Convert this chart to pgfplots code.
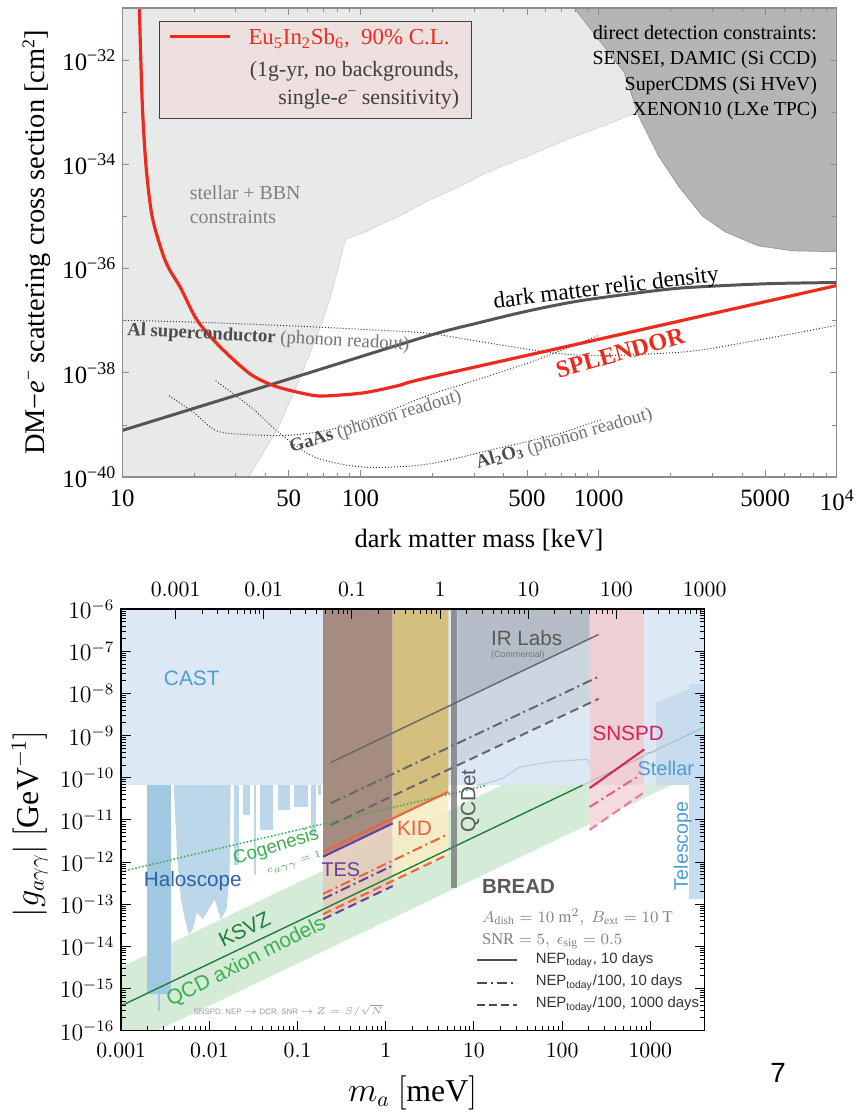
\documentclass[border=0pt]{standalone}
\usepackage{fontspec}
\setmainfont{Liberation Serif}
\newfontfamily\hv{Liberation Sans}
\usepackage{pgfplots}
\pgfplotsset{compat=1.18}
\newcommand{\fs}[1]{\fontsize{#1}{#1}\selectfont}
\newcommand{\sps}[1]{\raisebox{0.8ex}{\fontsize{9}{9}\selectfont #1}}
\definecolor{stellargray}{HTML}{E8E9E9}
\definecolor{ddgray}{HTML}{B5B5B5}
\definecolor{ddedge}{HTML}{999999}
\definecolor{splred}{HTML}{EE2A1B}
\definecolor{relic}{HTML}{555555}
\definecolor{legfill}{HTML}{EDE0DF}
\definecolor{castblue}{HTML}{DCE8F4}
\definecolor{halodark}{HTML}{A0C8E0}
\definecolor{halolight}{HTML}{BCD7EA}
\definecolor{bandgreen}{HTML}{D4ECD7}
\definecolor{ksvz}{HTML}{1E7E3C}
\definecolor{cogreen}{HTML}{3DAE4F}
\definecolor{tespurple}{HTML}{6A3D9A}
\definecolor{kidorange}{HTML}{F2603A}
\definecolor{snspd}{HTML}{D81E5B}
\definecolor{irgray}{HTML}{666666}
\definecolor{labelblue}{HTML}{4C9ED4}
\definecolor{haloblue}{HTML}{2B63A8}
\definecolor{tesbrown}{HTML}{A58C80}
\definecolor{tesbeige}{HTML}{E2CCBA}
\definecolor{kidgold}{HTML}{D5BF7F}
\definecolor{kidlight}{HTML}{F7EEC6}
\definecolor{irstrong}{HTML}{B4BDC7}
\definecolor{irlight}{HTML}{CCD6E1}
\definecolor{pinkhi}{HTML}{EDCFD4}
\definecolor{pinklo}{HTML}{F6DCE0}
\definecolor{stellarblue}{HTML}{C9DCEE}
\definecolor{telblue}{HTML}{C6DCF0}
\definecolor{wavy}{HTML}{A8CDE6}
\begin{document}
\begin{tikzpicture}
\begin{scope}[x=0.5pt,y=-0.5pt]
\path[use as bounding box] (0,0) rectangle (863,1117);
\end{scope}

% ================= TOP CHART =================
\begin{axis}[at={(61.5pt,-240pt)}, anchor=south west, scale only axis,
 width=359.5pt, height=236pt,
 xmode=log, ymode=log, xmin=10, xmax=10000, ymin=1e-40, ymax=1e-31,
 axis on top,
 axis line style={draw=black!45, line width=0.6pt},
 tick style={black!45, line width=0.4pt},
 tick align=inside, major tick length=3.5pt, minor tick length=2.2pt,
 xtick={10,50,100,500,1000,5000,10000},
 xticklabels={10,50,100,500,1000,5000,10\sps{4}},
 minor xtick={20,30,40,60,70,80,90,200,300,400,600,700,800,900,2000,3000,4000,6000,7000,8000,9000},
 ytick={1e-40,1e-38,1e-36,1e-34,1e-32},
 yticklabels={10\sps{−40},10\sps{−38},10\sps{−36},10\sps{−34},10\sps{−32}},
 minor ytick={1e-39,1e-37,1e-35,1e-33},
 ticklabel style={font=\fs{12.5}},
 xticklabel style={yshift=-3pt},
]
% stellar + BBN
\addplot[fill=stellargray, draw=black!18, line width=0.3pt] coordinates {
(10,1e-31) (1435,1e-31) (1435,9.8e-34) (1006,5.07e-34) (732,2.99e-34) (499,1.42e-34)
(339.8,7.05e-35) (262,3.81e-35) (190.9,1.97e-35) (143,9.77e-36) (104.2,5.07e-36)
(86.8,3.73e-36) (80.4,1e-36) (74.5,2.68e-37) (67.6,7.2e-38) (54.7,6.45e-39)
(45.2,8.96e-40) (33.9,1e-40) (10,1e-40)};
% direct detection
\addplot[fill=ddgray, draw=ddedge, line width=0.4pt] coordinates {
(791,1e-31) (1007,2.40e-32) (1280,5.90e-33) (1477,8.20e-34) (1790,1.42e-34)
(2168,3.81e-35) (2730,1.02e-35) (3404,5.07e-36) (4677,2.74e-36) (6486,2.20e-36)
(10000,2.11e-36) (10000,1e-31)};
% dotted phonon curves
\addplot[densely dotted, black!80, line width=0.5pt, smooth, tension=0.5] coordinates {
(10,1.02e-37) (20.95,9.35e-38) (54.7,7.86e-38) (118.1,6.59e-38) (190.9,5.78e-38)
(308.6,4.07e-38) (565,2.62e-38) (806.5,2.2e-38) (1304,2.2e-38) (2481,2.62e-38)
(4677,4.25e-38) (10000,8.2e-38)};
\addplot[densely dotted, black!80, line width=0.5pt, smooth, tension=0.5] coordinates {
(15.71,3.65e-39) (19.97,1.73e-39) (24.67,7.85e-40) (32.3,6.59e-40) (49.74,6.31e-40)
(75.2,8.2e-40) (118.1,1.52e-39) (190.9,3.65e-39) (308.6,7.36e-39) (549,1.77e-38) (1006,5.3e-38)};
\addplot[densely dotted, black!80, line width=0.5pt, smooth, tension=0.5] coordinates {
(24.67,7.05e-39) (34.85,2.15e-39) (46.5,6.59e-40) (64.5,2.4e-40) (104.2,1.55e-40)
(190.9,1.77e-40) (363.4,3.42e-40) (665.6,6.59e-40) (1025,1.27e-39)};
% relic density
\addplot[relic, line width=1.5pt, smooth, tension=0.5] coordinates {
(10,7.85e-40) (50,7.58e-39) (190.9,5.07e-38) (308.6,8.96e-38) (499,1.52e-37)
(806.5,2.35e-37) (1304,3.2e-37) (2107,4.16e-37) (3406,4.74e-37) (5507,5.18e-37) (10000,5.41e-37)};
% SPLENDOR
\addplot[splred, line width=1.6pt, smooth, tension=0.5] coordinates {
(11.75,2e-31) (12.12,1.73e-33) (12.59,9.17e-35) (13.34,1.02e-35) (14.69,2.11e-36)
(15.71,1e-36) (17.63,4.16e-37) (20.36,1.12e-37) (23.74,4.64e-38) (28.76,1.93e-38)
(34.85,9.17e-39) (42.25,5.90e-39) (51.2,4.54e-39) (64.5,3.65e-39) (75.2,3.65e-39)
(104.2,4.16e-39) (143,5.65e-39) (190.9,8.03e-39) (1000,4.40e-38) (10000,4.74e-37)};
\end{axis}

% ================= BOTTOM CHART =================
\begin{axis}[at={(61pt,-518.5pt)}, anchor=south west, scale only axis,
 width=293.5pt, height=212pt,
 xmode=log, ymode=log, xmin=1e-3, xmax=4136, ymin=1e-16, ymax=1e-6,
 axis on top,
 axis line style={line width=0.8pt},
 tick style={line width=0.5pt, black},
 tick align=inside, xtick pos=left,
 major tick length=5pt, minor tick length=2.5pt,
 xtick={0.001,0.01,0.1,1,10,100,1000},
 xticklabels={$0.001$,$0.01$,$0.1$,$1$,$10$,$100$,$1000$},
 ytick={1e-16,1e-15,1e-14,1e-13,1e-12,1e-11,1e-10,1e-9,1e-8,1e-7,1e-6},
 xticklabel style={font=\fs{11}, yshift=-3pt},
 yticklabel style={font=\fs{11.5}},
]
% QCD band
\addplot[fill=bandgreen, draw=none] coordinates {(1e-3,3.9e-17) (1713,6.68e-11) (20.6,6.68e-11) (1e-3,3.24e-15)};
% CAST
\addplot[fill=castblue, draw=none] coordinates {(1e-3,1e-6) (4136,1e-6) (4136,6.68e-11) (1e-3,6.68e-11)};
% haloscope
\addplot[fill=halolight, draw=none] coordinates {
(3.96e-3,6.68e-11) (3.96e-3,5.10e-11) (4.29e-3,1.50e-12) (4.75e-3,1.30e-13) (5.27e-3,4.39e-14)
(5.85e-3,1.94e-14) (6.49e-3,2.55e-14) (7.20e-3,6.41e-14) (8.41e-3,4.39e-14) (9.83e-3,7.54e-14)
(1.148e-2,1.30e-13) (1.343e-2,4.39e-14) (1.567e-2,7.54e-14) (1.694e-2,5.05e-13) (1.741e-2,6.68e-11)};
\addplot[fill=halolight, draw=none] coordinates {(1.88e-2,6.68e-11) (2.14e-2,6.68e-11) (2.14e-2,8.69e-13) (1.88e-2,8.69e-13)};
\addplot[fill=halolight, draw=none] coordinates {(2.38e-2,6.68e-11) (2.92e-2,6.68e-11) (2.92e-2,1.31e-11) (2.38e-2,1.31e-11)};
\addplot[fill=halolight, draw=none] coordinates {(3.24e-2,6.68e-11) (3.42e-2,6.68e-11) (3.42e-2,5.05e-13) (3.24e-2,5.05e-13)};
\addplot[fill=halolight, draw=none] coordinates {(3.79e-2,6.68e-11) (5.31e-2,6.68e-11) (5.31e-2,5.81e-12) (3.79e-2,5.81e-12)};
\addplot[fill=halolight, draw=none] coordinates {(6.05e-2,6.68e-11) (8.26e-2,6.68e-11) (8.26e-2,1.72e-11) (6.05e-2,1.72e-11)};
\addplot[fill=halolight, draw=none] coordinates {(9.17e-2,6.68e-11) (0.132,6.68e-11) (0.132,2.03e-11) (9.17e-2,2.03e-11)};
\addplot[fill=halolight, draw=none] coordinates {(0.1426,6.68e-11) (0.162,6.68e-11) (0.162,4.43e-12) (0.1426,4.43e-12)};
\addplot[fill=halolight, draw=none] coordinates {(0.171,6.68e-11) (0.185,6.68e-11) (0.185,3.89e-11) (0.171,3.89e-11)};
\addplot[fill=halodark, draw=none] coordinates {(1.96e-3,6.68e-11) (3.66e-3,6.68e-11) (3.66e-3,7.5e-16) (1.96e-3,7.5e-16)};
\addplot[halodark, line width=1pt] coordinates {(2.68e-3,7.5e-16) (2.68e-3,2.97e-16)};
% stellar & telescope
\addplot[fill=stellarblue, draw=none] coordinates {(1167,6.07e-9) (3304,1.53e-8) (4136,1.7e-8) (4136,6.68e-11) (1167,6.68e-11)};
\addplot[fill=telblue, draw=none] coordinates {(2754,1.7e-8) (4136,1.7e-8) (4136,1.3e-13) (2754,1.3e-13)};
\addplot[wavy, line width=0.5pt] coordinates {
(10.9,6.68e-11) (14.1,7.46e-11) (18.3,8.77e-11) (22.0,1.03e-10) (27.0,1.36e-10) (32.4,1.78e-10)
(43.2,1.98e-10) (58.9,2.21e-10) (87.0,2.46e-10) (128,2.60e-10) (190,2.75e-10) (205,2.21e-10)
(246,2.90e-10) (413,3.23e-10) (694,3.60e-10) (1026,4.02e-10) (1167,4.48e-10)};
% detector regions
\addplot[fill=tesbeige, draw=none, fill opacity=0.9] coordinates {(0.1945,1.34e-12) (1.2,8.27e-12) (1.2,2.7e-13) (0.1945,4.4e-14)};
\addplot[fill=kidlight, draw=none, fill opacity=0.9] coordinates {(1.2,1.086e-11) (5.13,4.64e-11) (5.13,1.53e-12) (1.2,3.58e-13)};
\addplot[fill=tesbrown, draw=none] coordinates {(0.1945,1e-6) (1.2,1e-6) (1.2,8.27e-12) (0.1945,1.34e-12)};
\addplot[fill=kidgold, draw=none] coordinates {(1.2,1e-6) (5.13,1e-6) (5.13,4.64e-11) (1.2,1.086e-11)};
\addplot[fill=irlight, draw=none] coordinates {(6.5,6.3e-9) (205,1.99e-7) (205,6.5e-9) (6.5,2.06e-10)};
\addplot[fill=irstrong, draw=none] coordinates {(6.5,1e-6) (205,1e-6) (205,1.99e-7) (6.5,6.3e-9)};
\addplot[fill=pinkhi, draw=none] coordinates {(205,1e-6) (855,1e-6) (855,6.68e-11) (205,6.68e-11)};
\addplot[fill=pinklo, draw=none] coordinates {(205,6.68e-11) (855,6.68e-11) (855,4.57e-11) (205,5.8e-12)};
% lines
\addplot[cogreen, densely dotted, line width=0.8pt] coordinates {(1e-3,5.94e-13) (14.1,6.68e-11)};
\addplot[ksvz, line width=0.7pt] coordinates {(1e-3,3.9e-16) (171,6.67e-11)};
\addplot[ksvz, line width=0.5pt, opacity=0.25] coordinates {(171,6.67e-11) (4136,1.61e-9)};
\addplot[black!55, line width=3pt, opacity=0.75] coordinates {(5.9,1e-6) (5.9,2.49e-13)};
% IR labs
\addplot[irgray, line width=0.7pt] coordinates {(0.24,2.33e-10) (259,2.51e-7)};
\addplot[irgray, line width=1pt, dash pattern=on 5pt off 2pt on 1pt off 2pt] coordinates {(0.24,2.52e-11) (259,2.5e-8)};
\addplot[irgray, line width=1pt, dash pattern=on 4.5pt off 2.5pt] coordinates {(0.24,7.6e-12) (259,7.5e-9)};
% KID
\addplot[kidorange, line width=1pt] coordinates {(0.1945,1.76e-12) (5.13,4.64e-11)};
\addplot[kidorange, line width=1pt, dash pattern=on 5pt off 2pt on 1pt off 2pt] coordinates {(0.1945,1.76e-13) (5.13,4.64e-12)};
\addplot[kidorange, line width=1pt, dash pattern=on 4.5pt off 2.5pt] coordinates {(0.1945,5.8e-14) (5.13,1.53e-12)};
% TES
\addplot[tespurple, line width=1pt] coordinates {(0.1945,1.34e-12) (1.2,8.27e-12)};
\addplot[tespurple, line width=1pt, dash pattern=on 5pt off 2pt on 1pt off 2pt] coordinates {(0.1945,1.34e-13) (1.2,8.27e-13)};
\addplot[tespurple, line width=1pt, dash pattern=on 4.5pt off 2.5pt] coordinates {(0.1945,4.4e-14) (1.2,2.7e-13)};
% SNSPD
\addplot[snspd, line width=1pt] coordinates {(205,5.69e-11) (855,4.73e-10)};
\addplot[snspd!70, line width=1pt, dash pattern=on 5pt off 2pt on 1pt off 2pt] coordinates {(205,2.03e-11) (760,1.15e-10)};
\addplot[snspd!60, line width=1pt, dash pattern=on 4.5pt off 2.5pt] coordinates {(205,5.8e-12) (855,4.57e-11)};
\end{axis}
% top (THz) axis
\begin{axis}[at={(61pt,-518.5pt)}, anchor=south west, scale only axis,
 width=293.5pt, height=212pt,
 xmode=log, xmin=2.418e-4, xmax=1000.1, ymin=0, ymax=1,
 hide y axis, axis x line*=top,
 axis line style={line width=0.8pt},
 tick style={line width=0.5pt, black},
 tick align=inside, major tick length=5pt, minor tick length=2.5pt,
 xtick={0.001,0.01,0.1,1,10,100,1000},
 xticklabels={$0.001$,$0.01$,$0.1$,$1$,$10$,$100$,$1000$},
 xticklabel style={font=\fs{11}, yshift=3pt},
]
\end{axis}

\begin{scope}[x=0.5pt,y=-0.5pt]
% top chart texts
\node[font=\fs{13.3}] at (482,543) {dark matter mass [keV]};
\node[font=\fs{14.3}, rotate=90] at (37,244) {DM−\textit{e}\sps{−} scattering cross section [cm\sps{2}]};
\draw[fill=legfill, draw=black!75, line width=0.5pt] (160,22) rectangle (474,119);
\draw[splred, line width=1.6pt] (171,37) -- (231,37);
\node[anchor=west, text=splred, font=\fs{11.5}] at (243,39) {Eu\textsubscript{5}In\textsubscript{2}Sb\textsubscript{6},\ \ 90\% C.L.};
\node[anchor=east, text=black!75, font=\fs{11}] at (469,72) {(1g-yr, no backgrounds,};
\node[anchor=east, text=black!75, font=\fs{11}] at (469,100) {single-\textit{e}\raisebox{0.8ex}{\fs{8}−} sensitivity)};
\node[anchor=west, text=black!50, font=\fs{10}, align=left] at (184,206) {stellar + BBN\\[2pt]constraints};
\node[anchor=east, font=\fs{10.2}] at (829,33) {direct detection constraints:};
\node[anchor=east, font=\fs{10}] at (829,60) {SENSEI, DAMIC (Si CCD)};
\node[anchor=east, font=\fs{10}] at (829,86) {SuperCDMS (Si HVeV)};
\node[anchor=east, font=\fs{10}] at (829,111) {XENON10 (LXe TPC)};
\node[rotate=7, font=\fs{11.7}] at (610,291) {dark matter relic density};
\node[rotate=15.7, text=splred, font=\fs{12.2}\bfseries] at (624,355) {SPLENDOR};
\node[rotate=-3, font=\fs{9.4}, text=black!55] at (270,340) {\textbf{\color{black!70}Al superconductor} (phonon readout)};
\node[rotate=17, font=\fs{9.4}, text=black!55] at (378,425) {\textbf{\color{black!70}GaAs} (phonon readout)};
\node[rotate=16, font=\fs{9.4}, text=black!55] at (568,442) {\textbf{\color{black!70}Al\textsubscript{2}O\textsubscript{3}} (phonon readout)};

% bottom chart texts
\node[font=\fs{16}] at (415,1100) {$m_a\ [\mathrm{meV}]$};
\node[font=\fs{16}, rotate=90] at (30,829) {$|g_{a\gamma\gamma}|\ [\mathrm{GeV}^{-1}]$};
\node[font=\hv\fs{10.5}, text=labelblue] at (193,683) {CAST};
\node[font=\hv\fs{10.4}, text=haloblue] at (194,887) {Haloscope};
\node[font=\hv\fs{10.5}, text=ksvz, rotate=26] at (246,935) {KSVZ};
\node[font=\hv\fs{10.5}, text=cogreen, rotate=27] at (248,968) {QCD axion models};
\node[font=\hv\fs{9.4}, text=cogreen, rotate=17] at (278,852) {Cogenesis};
\node[font=\fs{4.5}, text=cogreen, rotate=17] at (296,869) {$c_{a\gamma\gamma}=1$};
\node[font=\hv\fs{10}, text=tespurple] at (343,875) {TES};
\node[font=\hv\fs{10.5}, text=kidorange] at (417,833) {KID};
\node[font=\hv\fs{10.4}, text=black!65, rotate=90] at (473,806) {QCDet};
\node[font=\hv\fs{10.4}, text=black!65, anchor=west] at (487,642) {IR Labs};
\node[font=\hv\fs{4.5}, text=black!55, anchor=west] at (487,659) {(Commercial)};
\node[font=\hv\fs{10.4}, text=snspd] at (632,738) {SNSPD};
\node[font=\hv\fs{10}, text=labelblue] at (670,773) {Stellar};
\node[font=\hv\fs{9.9}, text=labelblue, rotate=90] at (687,851) {Telescope};
\node[font=\hv\bfseries\fs{10.3}, text=black!65, anchor=west] at (478,892) {BREAD};
\node[font=\fs{8.3}, text=black!50, anchor=west] at (478,923) {$A_{\mathrm{dish}}=10\ \mathrm{m}^2,\ B_{\mathrm{ext}}=10\ \mathrm{T}$};
\node[font=\fs{8.3}, text=black!50, anchor=west] at (478,947) {$\mathrm{SNR}=5,\ \epsilon_{\mathrm{sig}}=0.5$};
\draw[black!70, line width=0.8pt] (480,966) -- (520,966);
\draw[black!70, line width=0.8pt, dash pattern=on 5pt off 2pt on 1pt off 2pt] (480,989) -- (520,989);
\draw[black!70, line width=0.8pt, dash pattern=on 4pt off 2pt] (480,1011) -- (520,1011);
\node[font=\hv\fs{7.5}, text=black!80, anchor=west] at (532,966) {NEP\textsubscript{today}, 10 days};
\node[font=\hv\fs{7.5}, text=black!80, anchor=west] at (532,989) {NEP\textsubscript{today}/100, 10 days};
\node[font=\hv\fs{7.5}, text=black!80, anchor=west] at (532,1011) {NEP\textsubscript{today}/100, 1000 days};
\node[font=\hv\fs{4}, text=black!40] at (290,1017) {SNSPD: NEP $\rightarrow$ DCR, SNR $\rightarrow$ $Z=S/\sqrt{N}$};
\node[font=\hv\fs{14}] at (783,1080) {7};
\end{scope}
\end{tikzpicture}
\end{document}
